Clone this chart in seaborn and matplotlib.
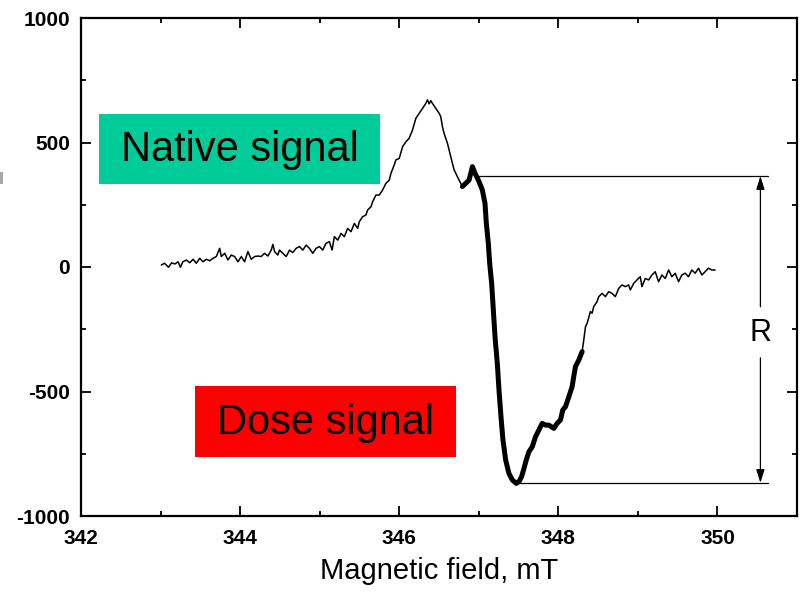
import matplotlib
matplotlib.use("Agg")
import matplotlib.pyplot as plt
from matplotlib.patches import Rectangle
from matplotlib.ticker import MultipleLocator
import seaborn as sns
import pandas as pd

# ---- data ----
# thin (left) part of the spectrum
native_field = [343.01, 343.05, 343.10, 343.14, 343.18, 343.22, 343.25, 343.28, 343.325, 343.367,
                343.409, 343.450, 343.492, 343.534, 343.576, 343.618, 343.659, 343.701, 343.743, 343.764,
                343.806, 343.847, 343.889, 343.931, 343.973, 344.015, 344.056, 344.098, 344.140, 344.182,
                344.224, 344.265, 344.307, 344.349, 344.391, 344.412, 344.433, 344.474, 344.495, 344.537,
                344.579, 344.621, 344.662, 344.704, 344.746, 344.788, 344.830, 344.871, 344.913, 344.955,
                344.997, 345.039, 345.080, 345.122, 345.156, 345.185, 345.227, 345.269, 345.310, 345.352,
                345.394, 345.436, 345.478, 345.498, 345.540, 345.582, 345.603, 345.645, 345.666, 345.707,
                345.749, 345.791, 345.833, 345.875, 345.896, 345.937, 345.958, 346.000, 346.042, 346.084,
                346.125, 346.167, 346.209, 346.251, 346.293, 346.334, 346.355, 346.376, 346.397, 346.418,
                346.460, 346.502, 346.522, 346.543, 346.564, 346.606, 346.648, 346.669, 346.690, 346.731,
                346.773, 346.794]
native_val = [8, 15, -1, 17, 12, 21, -1, 21, 28, 17,
              31, 15, 35, 21, 31, 25, 35, 42, 75, 42,
              55, 28, 48, 42, 21, 42, 21, 62, 31, 42,
              44, 42, 55, 44, 68, 91, 62, 48, 68, 55,
              42, 68, 58, 75, 82, 68, 88, 75, 55, 75,
              82, 68, 95, 102, 68, 122, 108, 135, 122, 155,
              142, 175, 155, 182, 202, 209, 229, 242, 262, 289,
              289, 309, 336, 349, 376, 410, 430, 436, 483, 503,
              517, 550, 597, 617, 637, 657, 671, 655, 668, 657,
              637, 617, 604, 564, 537, 497, 443, 416, 390, 363,
              336, 323]

# thick (dose signal) part
dose_field = [346.794, 346.836, 346.878, 346.899, 346.920, 346.953, 347.003, 347.045, 347.078, 347.095,
              347.120, 347.137, 347.162, 347.183, 347.204, 347.233, 347.254, 347.279, 347.304, 347.338,
              347.379, 347.421, 347.471, 347.505, 347.538, 347.568, 347.597, 347.630, 347.672, 347.714,
              347.755, 347.797, 347.839, 347.881, 347.944, 347.985, 348.027, 348.056, 348.090, 348.132,
              348.173, 348.194, 348.215, 348.257, 348.299]
dose_val = [323, 336, 349, 376, 403, 376, 343, 309, 256, 175,
            95, 15, -66, -173, -280, -387, -494, -601, -695, -775,
            -829, -855, -869, -862, -842, -809, -775, -742, -722, -681,
            -655, -628, -635, -635, -648, -628, -614, -574, -561, -521,
            -481, -440, -400, -374, -340]

# thin (right) tail
tail_field = [348.299, 348.320, 348.341, 348.362, 348.403, 348.424, 348.445, 348.487, 348.508, 348.550,
              348.592, 348.633, 348.675, 348.717, 348.759, 348.800, 348.842, 348.884, 348.905, 348.947,
              348.988, 349.030, 349.051, 349.093, 349.135, 349.177, 349.218, 349.260, 349.302, 349.344,
              349.386, 349.427, 349.469, 349.511, 349.553, 349.595, 349.636, 349.678, 349.720, 349.762,
              349.804, 349.845, 349.887, 349.929, 349.971]
tail_val = [-340, -293, -240, -226, -179, -186, -159, -139, -119, -106,
            -119, -99, -106, -119, -86, -72, -79, -72, -92, -66,
            -52, -39, -79, -46, -52, -32, -19, -59, -32, -46,
            -12, -39, -25, -59, -32, -25, -39, -12, -25, -5,
            -32, -19, -5, -12, -12]

x_ticks = [342, 344, 346, 348, 350]
y_ticks = [-1000, -500, 0, 500, 1000]
r_top = 365
r_bottom = -867

df = pd.concat([
    pd.DataFrame({"field": native_field, "signal": native_val, "part": "native"}),
    pd.DataFrame({"field": dose_field, "signal": dose_val, "part": "dose"}),
    pd.DataFrame({"field": tail_field, "signal": tail_val, "part": "tail"}),
], ignore_index=True)

# ---- styling ----
sns.set_style("ticks")
plt.rcParams["font.family"] = ["Liberation Sans", "DejaVu Sans"]
plt.rcParams["axes.unicode_minus"] = False
plt.rcParams["text.color"] = "black"
plt.rcParams["axes.labelcolor"] = "black"
plt.rcParams["xtick.color"] = "black"
plt.rcParams["ytick.color"] = "black"
plt.rcParams["axes.edgecolor"] = "black"

fig = plt.figure(figsize=(8.02, 5.96), dpi=100)
ax = fig.add_axes([81 / 802, 1 - 516 / 596, (797 - 81) / 802, (516 - 18) / 596])

for part, lw in [("native", 1.1), ("tail", 1.1), ("dose", 3.6)]:
    sub = df[df["part"] == part]
    sns.lineplot(data=sub, x="field", y="signal", ax=ax, color="black", lw=lw,
                 estimator=None, sort=False, legend=False,
                 solid_capstyle="round", solid_joinstyle="round")

ax.set_xlim(342, 351)
ax.set_ylim(-1000, 1000)
ax.set_xticks(x_ticks)
ax.set_yticks(y_ticks)
ax.xaxis.set_minor_locator(MultipleLocator(1))
ax.yaxis.set_minor_locator(MultipleLocator(250))
ax.tick_params(which="both", direction="in", top=True, right=True, width=1.3,
               colors="black", labelcolor="black")
ax.tick_params(which="major", length=7.5)
ax.tick_params(axis="x", which="major", pad=9)
ax.tick_params(axis="y", which="major", pad=8)
ax.tick_params(which="minor", length=3.8)
for lab in ax.get_xticklabels() + ax.get_yticklabels():
    lab.set_fontweight("bold")
    lab.set_fontsize(15)
    lab.set_color("black")
for sp in ax.spines.values():
    sp.set_linewidth(1.6)
    sp.set_color("black")

ax.set_ylabel("")
ax.set_xlabel("Magnetic field, mT", fontsize=21, labelpad=7, color="black")

# ---- R annotation ----
ax.plot([346.95, 350.64], [r_top, r_top], color="black", lw=0.9)
ax.plot([347.50, 350.64], [r_bottom, r_bottom], color="black", lw=0.9)
arrow_x = 350.54
ax.annotate("", xy=(arrow_x, r_top), xytext=(arrow_x, -160),
            arrowprops=dict(arrowstyle="-|>,head_length=0.8,head_width=0.25", color="black", lw=0.9,
                            shrinkA=0, shrinkB=0))
ax.annotate("", xy=(arrow_x, r_bottom), xytext=(arrow_x, -365),
            arrowprops=dict(arrowstyle="-|>,head_length=0.8,head_width=0.25", color="black", lw=0.9,
                            shrinkA=0, shrinkB=0))
ax.text(arrow_x, -265, "R", fontsize=22, ha="center", va="center", color="black")

# ---- labelled boxes ----
ax.add_patch(Rectangle((342.226, 333), 345.762 - 342.226, 614 - 333,
                       facecolor="#00CC99", edgecolor="none", zorder=1))
ax.text((342.226 + 345.762) / 2, (333 + 614) / 2 - 5, "Native signal", fontsize=30,
        ha="center", va="center", zorder=2, color="black")
ax.add_patch(Rectangle((343.43, -763), 346.715 - 343.43, -478 + 763,
                       facecolor="#FF0000", edgecolor="none", zorder=1))
ax.text((343.43 + 346.715) / 2, (-763 - 478) / 2 - 5, "Dose signal", fontsize=30,
        ha="center", va="center", zorder=2, color="black")

# small grey artifact at left edge
fig.patches.append(Rectangle((0, 1 - 184 / 596), 3 / 802, 12 / 596, transform=fig.transFigure,
                             facecolor="#a8a8a8", edgecolor="none"))

fig.savefig("out.png", dpi=100)
